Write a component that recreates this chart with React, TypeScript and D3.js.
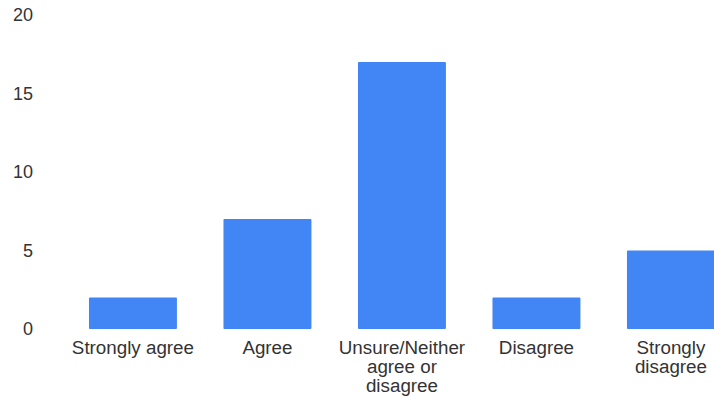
import React from "react";
import * as d3 from "d3";

const categories = ["Strongly agree", "Agree", "Unsure/Neither agree or disagree", "Disagree", "Strongly disagree"];
const labelLines = [["Strongly agree"], ["Agree"], ["Unsure/Neither", "agree or", "disagree"], ["Disagree"], ["Strongly", "disagree"]];
const values = [2, 7, 17, 2, 5];
const yTicks = [0, 5, 10, 15, 20];

export default function App() {
  const W = 714, H = 399;
  const x = d3.scaleBand<string>().domain(categories).range([65.7, 738.2]).paddingInner(0.346).paddingOuter(0.173);
  const y = d3.scaleLinear().domain([0, 20]).range([329, 15]);
  const font = "Arial, 'Liberation Sans', sans-serif";
  return (
    <svg width={W} height={H} style={{ position: "absolute", left: 0, top: 0, background: "#fff" }}>
      {yTicks.map((t) => (
        <text key={t} x={33} y={y(t)} dy="0.35em" textAnchor="end" fontFamily={font} fontSize={18} fill="#333">{t}</text>
      ))}
      {values.map((v, i) => (
        <rect key={i} x={x(categories[i])} y={y(v)} width={x.bandwidth()} height={y(0) - y(v)} fill="#4285F4" rx={1} />
      ))}
      {labelLines.map((lines, i) => (
        <text key={i} textAnchor="middle" fontFamily={font} fontSize={18.8} fill="#333">
          {lines.map((l, j) => (
            <tspan key={j} x={(x(categories[i]) as number) + x.bandwidth() / 2} y={354 + j * 19}>{l}</tspan>
          ))}
        </text>
      ))}
    </svg>
  );
}
